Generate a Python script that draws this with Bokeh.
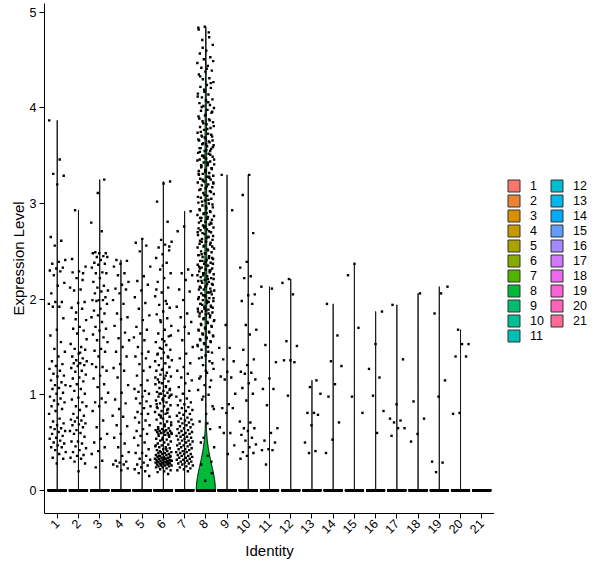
import math
import numpy as np
from bokeh.plotting import figure
from bokeh.layouts import row
from bokeh.models import ColumnDataSource, FixedTicker, Legend, LegendItem
from bokeh.embed import file_html
from bokeh.resources import INLINE

# ---------------- data ----------------
identities = [str(i) for i in range(1, 22)]
y_ticks = [0, 1, 2, 3, 4, 5]

g1 = [3.87, 3.46, 3.31, 3.29, 3.20, 2.65, 2.61, 2.56, 2.41, 2.39, 2.37, 2.33, 2.32, 2.30, 2.29, 2.25, 2.17,
      2.14, 2.06, 1.97, 1.97, 1.95, 1.92, 1.92, 1.80, 1.68, 1.62, 1.55, 1.48, 1.45, 1.40, 1.35, 1.32, 1.30,
      1.27, 1.25, 1.22, 1.20, 1.19, 1.15, 1.13, 1.10, 1.10, 1.07, 1.06, 1.02, 1.01, 0.98, 0.96, 0.94, 0.92,
      0.90, 0.88, 0.85, 0.83, 0.80, 0.75, 0.72, 0.70, 0.68, 0.66, 0.65, 0.64, 0.62, 0.61, 0.59, 0.57, 0.55,
      0.54, 0.52, 0.50, 0.49, 0.47, 0.45, 0.45, 0.42, 0.40, 0.38, 0.34, 0.33, 0.28]
g2 = [2.93, 2.34, 2.29, 2.28, 2.27, 2.22, 2.12, 2.10, 2.09, 1.97, 1.96, 1.91, 1.90, 1.79, 1.78, 1.71, 1.69,
      1.67, 1.64, 1.53, 1.50, 1.48, 1.47, 1.43, 1.40, 1.38, 1.36, 1.35, 1.33, 1.33, 1.31, 1.30, 1.28, 1.25,
      1.24, 1.21, 1.18, 1.17, 1.14, 1.11, 1.09, 1.06, 1.04, 1.01, 0.97, 0.95, 0.92, 0.88, 0.88, 0.84, 0.80,
      0.78, 0.76, 0.74, 0.73, 0.72, 0.70, 0.69, 0.68, 0.66, 0.63, 0.62, 0.60, 0.59, 0.56, 0.51, 0.51, 0.49,
      0.46, 0.44, 0.42, 0.40, 0.37, 0.36, 0.34, 0.33, 0.30, 0.28, 0.20, 2.42, 2.20, 1.86, 1.58, 1.44]
g3 = [3.25, 3.11, 2.80, 2.71, 2.49, 2.48, 2.48, 2.48, 2.45, 2.44, 2.44, 2.41, 2.38, 2.37, 2.36, 2.33, 2.28,
      2.27, 2.27, 2.22, 2.18, 2.14, 2.12, 2.09, 2.08, 2.06, 2.02, 1.99, 1.99, 1.99, 1.98, 1.95, 1.90, 1.88,
      1.85, 1.83, 1.81, 1.76, 1.71, 1.69, 1.67, 1.63, 1.60, 1.57, 1.55, 1.48, 1.46, 1.45, 1.40, 1.32, 1.29,
      1.29, 1.25, 1.20, 1.17, 1.11, 1.08, 1.02, 0.96, 0.92, 0.92, 0.88, 0.83, 0.73, 0.66, 0.59, 0.54, 0.50,
      0.45, 0.41, 0.38, 0.31, 0.24]
g4 = [2.41, 2.40, 2.37, 2.34, 2.27, 2.25, 2.18, 2.15, 2.11, 2.10, 2.06, 1.99, 1.95, 1.85, 1.81, 1.79, 1.72,
      1.65, 1.59, 1.57, 1.50, 1.45, 1.40, 1.32, 1.28, 1.25, 1.18, 1.10, 1.02, 0.95, 0.91, 0.85, 0.78, 0.77,
      0.68, 0.67, 0.59, 0.55, 0.49, 0.45, 0.40, 0.36, 0.31, 0.30, 0.29, 0.27, 0.27, 0.25, 0.23, 0.21]
g5 = [2.63, 2.59, 2.56, 2.50, 2.34, 2.24, 2.19, 2.15, 2.09, 2.02, 1.96, 1.90, 1.83, 1.78, 1.71, 1.68, 1.64,
      1.60, 1.57, 1.50, 1.45, 1.43, 1.40, 1.38, 1.32, 1.29, 1.25, 1.20, 1.15, 1.10, 1.06, 1.04, 1.03, 1.01,
      0.98, 0.96, 0.93, 0.91, 0.88, 0.86, 0.82, 0.80, 0.80, 0.76, 0.73, 0.71, 0.68, 0.64, 0.62, 0.59, 0.57,
      0.55, 0.50, 0.47, 0.43, 0.39, 0.39, 0.36, 0.33, 0.32, 0.29, 0.27, 0.26, 0.24, 0.22, 0.20, 0.18, 0.15]
g6 = [3.23, 3.21, 3.02, 2.81, 2.62, 2.60, 2.57, 2.54, 2.51, 2.47, 2.43, 2.38, 2.31, 2.27, 2.22, 2.18, 2.12,
      2.07, 2.03, 1.98, 1.94, 1.91, 1.87, 1.84, 1.80, 1.76, 1.72, 1.68, 1.64, 1.61, 1.58, 1.55, 1.52, 1.49,
      1.47, 1.44, 1.42, 1.40, 1.38, 1.36, 1.33, 1.31, 1.29, 1.27, 1.25, 1.23, 1.21, 1.19, 1.17, 1.16, 1.14,
      1.12, 1.11, 1.09, 1.07, 1.06, 1.04, 1.03, 1.02, 1.01, 1.00, 0.99, 0.98, 0.97, 0.95, 0.94, 0.92, 0.91,
      0.89, 0.88, 0.86, 0.85, 0.83, 0.82, 0.80, 0.79, 0.77, 0.75, 0.74, 0.72, 0.70, 0.68, 0.67, 0.66, 0.65,
      0.64, 0.63, 0.63, 0.62, 0.62, 0.61, 0.61, 0.60, 0.60, 0.59, 0.58, 0.57, 0.56, 0.55, 0.54, 0.53, 0.52,
      0.51, 0.50, 0.49, 0.48, 0.47, 0.46, 0.45, 0.45, 0.44, 0.43, 0.42, 0.41, 0.40, 0.40, 0.39, 0.39, 0.38,
      0.38, 0.37, 0.37, 0.36, 0.36, 0.35, 0.35, 0.34, 0.34, 0.33, 0.33, 0.33, 0.32, 0.32, 0.32, 0.31, 0.31,
      0.31, 0.30, 0.30, 0.30, 0.29, 0.29, 0.29, 0.28, 0.28, 0.28, 0.27, 0.27, 0.27, 0.26, 0.26, 0.25, 0.25,
      0.24, 0.24, 0.23, 0.22, 0.21, 0.20, 0.19, 0.17, 1.48, 1.35, 1.20, 1.13, 1.05, 0.96, 0.90, 0.84, 0.78,
      0.71, 0.69, 0.64, 0.58, 0.53, 0.47, 0.43, 0.41, 0.35, 0.34, 0.30, 0.28, 0.26, 0.31, 0.33, 0.36, 2.55,
      2.35, 2.10, 1.95, 1.78, 1.62, 1.56, 1.43, 1.39, 1.26, 1.18, 1.08, 1.01, 0.99, 0.93, 0.87, 0.81, 0.76,
      0.60, 0.62, 0.59, 0.57]
g7 = [2.92, 2.76, 2.71, 2.31, 2.27, 2.25, 2.20, 2.10, 2.08, 1.99, 1.92, 1.85, 1.81, 1.76, 1.71, 1.67, 1.64,
      1.57, 1.50, 1.43, 1.38, 1.33, 1.29, 1.25, 1.22, 1.18, 1.15, 1.12, 1.08, 1.04, 1.01, 0.98, 0.96, 0.94,
      0.92, 0.90, 0.89, 0.87, 0.86, 0.84, 0.83, 0.81, 0.80, 0.79, 0.78, 0.76, 0.75, 0.74, 0.73, 0.72, 0.71,
      0.70, 0.69, 0.68, 0.67, 0.66, 0.65, 0.64, 0.63, 0.62, 0.61, 0.60, 0.60, 0.59, 0.58, 0.57, 0.56, 0.56,
      0.55, 0.54, 0.53, 0.52, 0.52, 0.51, 0.50, 0.49, 0.48, 0.47, 0.47, 0.46, 0.45, 0.44, 0.43, 0.43, 0.42,
      0.41, 0.40, 0.40, 0.39, 0.38, 0.38, 0.37, 0.36, 0.36, 0.35, 0.34, 0.34, 0.33, 0.32, 0.32, 0.31, 0.30,
      0.30, 0.29, 0.28, 0.28, 0.27, 0.26, 0.25, 0.24, 0.23, 0.22, 0.21, 0.20]
g8 = [4.85, 4.84, 4.79, 4.71, 4.66, 4.60, 4.57, 4.53, 4.51, 4.47, 4.44, 4.42, 4.39, 4.38, 4.35, 4.31, 4.30,
      4.27, 4.24, 4.22, 4.21, 4.17, 4.15, 4.14, 4.11, 4.09, 4.08, 4.05, 4.03, 4.02, 4.00, 3.98, 3.97, 3.95,
      3.92, 3.91, 3.88, 3.86, 3.85, 3.83, 3.80, 3.79, 3.77, 3.74, 3.73, 3.71, 3.70, 3.68, 3.66, 3.64, 3.63,
      3.61, 3.60, 3.58, 3.57, 3.55, 3.53, 3.52, 3.50, 3.49, 3.47, 3.46, 3.44, 3.43, 3.41, 3.40, 3.38, 3.37,
      3.35, 3.34, 3.32, 3.31, 3.29, 3.28, 3.26, 3.25, 3.23, 3.22, 3.20, 3.19, 3.17, 3.16, 3.14, 3.13, 3.11,
      3.10, 3.08, 3.06, 3.05, 3.03, 3.01, 3.00, 2.98, 2.96, 2.95, 2.93, 2.91, 2.90, 2.88, 2.86, 2.85, 2.83,
      2.81, 2.80, 2.78, 2.77, 2.75, 2.73, 2.72, 2.70, 2.68, 2.67, 2.65, 2.63, 2.62, 2.60, 2.58, 2.57, 2.55,
      2.53, 2.52, 2.50, 2.49, 2.48, 2.46, 2.45, 2.44, 2.42, 2.41, 2.40, 2.38, 2.37, 2.36, 2.35, 2.33, 2.32,
      2.31, 2.29, 2.28, 2.27, 2.26, 2.24, 2.23, 2.22, 2.20, 2.19, 2.18, 2.17, 2.15, 2.14, 2.13, 2.11, 2.10,
      2.09, 2.07, 2.06, 2.05, 2.03, 2.02, 2.01, 1.99, 1.98, 1.96, 1.95, 1.93, 1.92, 1.90, 1.89, 1.87, 1.86,
      1.84, 1.82, 1.81, 1.79, 1.77, 1.76, 1.74, 1.72, 1.70, 1.68, 1.66, 1.64, 1.62, 1.60, 1.58, 1.56, 1.54,
      1.52, 1.50, 1.47, 1.44, 1.41, 1.38, 1.35, 1.31, 1.27, 1.23, 1.19, 1.15, 1.10, 1.05, 1.00, 0.95, 0.88,
      0.80, 0.72, 0.64, 0.55, 0.45, 0.36, 0.27, 0.18, 0.10,
      4.82, 4.74, 4.63, 4.49, 4.41, 4.33, 4.26, 4.19, 4.12, 4.06, 4.01, 3.96, 3.93, 3.89, 3.87, 3.84, 3.81,
      3.78, 3.75, 3.72, 3.69, 3.67, 3.65, 3.62, 3.59, 3.56, 3.54, 3.51, 3.48, 3.45, 3.42, 3.39, 3.36, 3.33,
      3.30, 3.27, 3.24, 3.21, 3.18, 3.15, 3.12, 3.09, 3.07, 3.04, 3.02, 2.99, 2.97, 2.94, 2.92, 2.89, 2.87,
      2.84, 2.82, 2.79, 2.76, 2.74, 2.71, 2.69, 2.66, 2.64, 2.61, 2.59, 2.56, 2.54, 2.51, 2.47, 2.43, 2.39,
      2.34, 2.30, 2.25, 2.21, 2.16, 2.12, 2.08, 2.04, 2.00, 1.97, 1.94, 1.91, 1.88, 1.85, 1.83, 1.80, 1.78,
      1.75, 1.73, 1.71, 1.69, 1.67, 1.65, 1.63, 1.61, 1.59, 1.57, 1.55, 1.53, 1.51, 1.45, 1.39, 1.33, 1.25,
      1.17, 1.08, 0.98, 0.85, 0.70, 0.50, 0.30,
      2.48, 2.46, 2.43, 2.40, 2.37, 2.35, 2.32, 2.30, 2.27, 2.25, 2.21, 2.19, 2.16, 2.13, 2.10, 2.07, 2.04,
      2.01, 1.98, 1.95, 1.92, 1.90, 1.87, 1.85, 3.70, 3.66, 3.62, 3.58, 3.55, 3.50, 3.46, 3.43, 3.40, 3.37,
      3.34, 3.31, 3.28, 3.25, 3.22, 2.90, 2.85, 2.80, 2.75, 2.70, 2.65, 2.60, 2.55]
g9 = [3.30, 2.93, 1.73, 1.49, 1.49, 1.37, 1.35, 1.24, 1.19, 1.18, 1.16, 1.01, 0.90, 0.86, 0.86, 0.81, 0.66,
      0.60, 0.60, 0.47, 0.38]
g10 = [3.30, 3.09, 2.69, 2.39, 2.33, 2.24, 2.22, 2.05, 2.04, 1.98, 1.95, 1.73, 1.68, 1.63, 1.47, 1.37, 1.31,
       1.24, 1.23, 1.22, 1.16, 1.12, 1.07, 1.01, 0.94, 0.72, 0.71, 0.65, 0.65, 0.62, 0.58, 0.55, 0.52, 0.48,
       0.45, 0.40, 0.39, 0.36, 0.33]
g11 = [2.13, 2.11, 1.52, 1.34, 1.17, 1.06, 1.06, 0.89, 0.65, 0.60, 0.52, 0.50, 0.43, 0.42, 0.42, 0.27]
g12 = [2.21, 2.17, 2.05, 1.56, 1.51, 1.36, 1.36, 1.34, 0.99]
g13 = [1.15, 1.08, 1.01, 0.81, 0.81, 0.79, 0.68, 0.50, 0.41, 0.39]
g14 = [1.95, 1.62, 1.35, 1.30, 1.11, 0.98, 0.71, 0.53, 0.39]
g15 = [2.37, 2.25, 1.70, 0.98, 0.81]
g16 = [1.87, 1.53, 1.27, 1.18, 0.99, 0.83, 0.60]
g17 = [1.94, 1.37, 0.90, 0.75, 0.73, 0.71, 0.65, 0.65, 0.57]
g18 = [2.06, 0.93, 0.75, 0.59, 0.51]
g19 = [2.13, 2.06, 1.85, 1.15, 0.98, 0.30, 0.29, 0.19]
g20 = [1.68, 1.53, 1.53, 1.40, 1.40, 0.81, 0.80]
g21 = []
zero_counts = [300, 350, 300, 250, 300, 800, 500, 900, 200, 200, 150, 150, 150, 150, 150, 150, 150, 150,
               150, 150, 150]

groups = [g1, g2, g3, g4, g5, g6, g7, g8, g9, g10, g11, g12, g13, g14, g15, g16, g17, g18, g19, g20, g21]


# ---------------- helpers ----------------
def hcl_hex(h, c=100.0, l=65.0):
    Xn, Yn, Zn = 95.047, 100.0, 108.883
    hr = math.radians(h)
    U, V = c * math.cos(hr), c * math.sin(hr)
    Y = Yn * ((l + 16.0) / 116.0) ** 3
    den = Xn + 15 * Yn + 3 * Zn
    un, vn = 4 * Xn / den, 9 * Yn / den
    u = U / (13 * l) + un
    v = V / (13 * l) + vn
    X = 9.0 * Y * u / (4 * v)
    Z = -X / 3 - 5 * Y + 3 * Y / v
    X, Y, Z = X / 100, Y / 100, Z / 100
    rgb = [3.240479 * X - 1.537150 * Y - 0.498535 * Z,
           -0.969256 * X + 1.875992 * Y + 0.041556 * Z,
           0.055648 * X - 0.204043 * Y + 1.057311 * Z]
    out = []
    for t in rgb:
        t = 1.055 * t ** (1 / 2.4) - 0.055 if t > 0.0031308 else 12.92 * t
        out.append(int(round(min(max(t, 0), 1) * 255)))
    return "#%02x%02x%02x" % tuple(out)


hues = np.linspace(15, 375, 22)[:21]
colors = [hcl_hex(h) for h in hues]


def violin_outline(vals, nzero, center):
    arr = np.concatenate([np.zeros(nzero), np.asarray(vals, float)])
    n = len(arr)
    sd = arr.std(ddof=1)
    q1, q3 = np.quantile(arr, [0.25, 0.75])
    iqr = q3 - q1
    noise = 1e-5  # Seurat adds tiny noise -> tiny bandwidth when IQR collapses
    lo = min(sd, iqr / 1.34) if iqr > 0 else noise
    bw = 0.9 * lo * n ** -0.2
    grid = np.linspace(arr.min(), arr.max(), 512)
    if arr.max() == arr.min():
        half = np.full(512, 0.45)
    else:
        dens = np.exp(-0.5 * ((grid[:, None] - arr[None, :]) / bw) ** 2).sum(axis=1)
        half = 0.45 * dens / dens.max()
    xs = np.concatenate([center - half, (center + half)[::-1]])
    ys = np.concatenate([grid, grid[::-1]])
    return xs.tolist(), ys.tolist()


def offsets(n, shift):
    return [0.4 * (2 * (((k + 1) * 0.6180339887 + shift) % 1.0) - 1) for k in range(n)]


# ---------------- main figure ----------------
all_vals = [v for g in groups for v in g] + [0.0]
ymin, ymax = min(all_vals), max(all_vals)
pad = 0.05 * (ymax - ymin)

p = figure(width=494, height=568, x_range=(0.4, 21.6), y_range=(ymin - pad, ymax + pad),
           output_backend="svg", toolbar_location=None,
           min_border_left=44, min_border_top=3, min_border_bottom=55, min_border_right=0)

vxs, vys = [], []
for i, g in enumerate(groups):
    xs, ys = violin_outline(g, zero_counts[i], i + 1)
    vxs.append(xs)
    vys.append(ys)
vsrc = ColumnDataSource(dict(xs=vxs, ys=vys, fill=colors))
p.patches("xs", "ys", source=vsrc, fill_color="fill", line_color="black", line_width=1)

px, py = [], []
for i, g in enumerate(groups):
    vals = [0.0] * zero_counts[i] + list(g)
    for off, v in zip(offsets(len(vals), 0.37 * i), vals):
        px.append(i + 1 + off)
        py.append(v)
p.scatter(px, py, marker="square", size=2.4, fill_color="black", line_color=None)

p.xaxis.ticker = FixedTicker(ticks=list(range(1, 22)))
p.xaxis.major_label_overrides = {i + 1: identities[i] for i in range(21)}
p.xaxis.major_label_orientation = math.pi / 4
p.yaxis.ticker = FixedTicker(ticks=y_ticks)
p.xaxis.axis_label = "Identity"
p.yaxis.axis_label = "Expression Level"
for ax in (p.xaxis, p.yaxis):
    ax.axis_line_color = "black"
    ax.axis_line_width = 1
    ax.major_tick_line_color = "black"
    ax.major_tick_out = 5
    ax.major_tick_in = 0
    ax.minor_tick_line_color = None
    ax.major_label_text_font = "Liberation Sans"
    ax.major_label_text_font_size = "12.5px"
    ax.major_label_text_color = "black"
    ax.major_label_standoff = 3
    ax.axis_label_text_font = "Liberation Sans"
    ax.axis_label_text_font_size = "15px"
    ax.axis_label_text_font_style = "normal"
    ax.axis_label_text_color = "black"
p.xaxis.axis_label_standoff = 1
p.yaxis.axis_label_standoff = 0
p.xgrid.visible = False
p.ygrid.visible = False
p.outline_line_color = None

# ---------------- legend panel ----------------
lf = figure(width=106, height=568, x_range=(-100, -99), y_range=(-100, -99),
            output_backend="svg", toolbar_location=None, x_axis_location=None, y_axis_location=None,
            min_border=0)
lf.xgrid.visible = False
lf.ygrid.visible = False
lf.outline_line_color = None
lr = lf.patches("xs", "ys", source=vsrc, fill_color="fill", line_color="#333333", line_width=1)
items = [LegendItem(label=identities[i], renderers=[lr], index=i) for i in range(21)]
legend = Legend(items=items, nrows=11, glyph_width=15, glyph_height=15, label_width=19, label_height=15,
                label_standoff=9, spacing=0, padding=7, margin=0, location=(12, 170),
                border_line_color=None, background_fill_alpha=0,
                label_text_font="Liberation Sans", label_text_font_size="12.5px", label_text_color="black")
lf.add_layout(legend, "center")

layout = row(p, lf, spacing=0)
open("out.html", "w").write(file_html(layout, INLINE))
